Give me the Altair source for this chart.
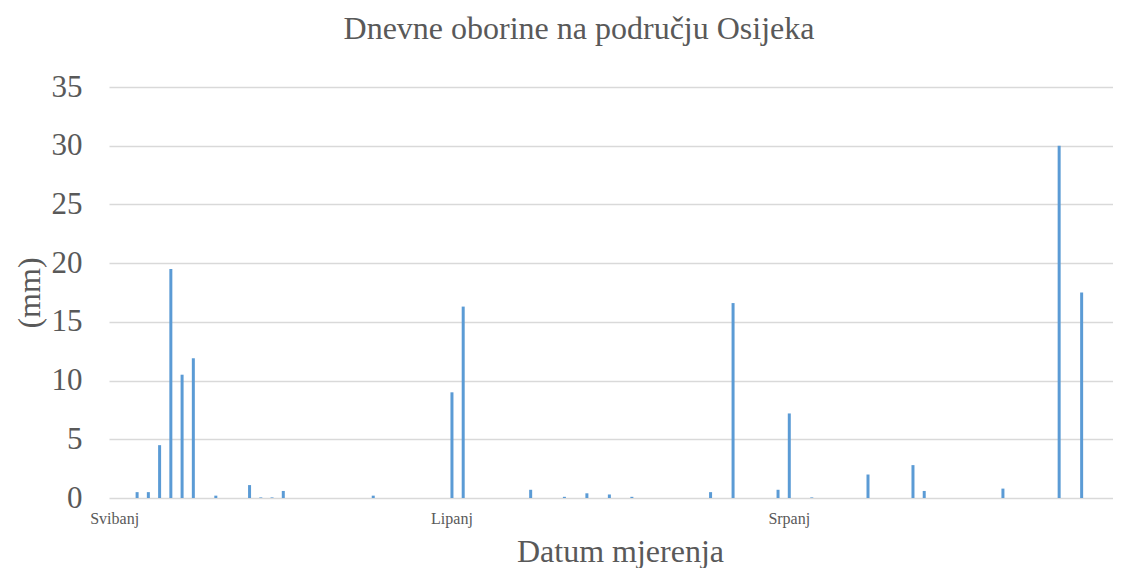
import altair as alt
import pandas as pd

# day index within the observed period (category axis)
days = list(range(1, 91))
# daily precipitation in mm
oborine = [
    0, 0, 0.5, 0.5, 4.5, 19.5, 10.5, 11.9, 0, 0.2,
    0, 0, 1.1, 0.05, 0.05, 0.6, 0, 0, 0, 0,
    0, 0, 0, 0.2, 0, 0, 0, 0, 0, 0,
    9.0, 16.3, 0, 0, 0, 0, 0, 0.7, 0, 0,
    0.1, 0, 0.4, 0, 0.3, 0, 0.1, 0, 0, 0,
    0, 0, 0, 0.5, 0, 16.6, 0, 0, 0, 0.7,
    7.2, 0, 0.05, 0, 0, 0, 0, 2.0, 0, 0,
    0, 2.8, 0.6, 0, 0, 0, 0, 0, 0, 0.8,
    0, 0, 0, 0, 30.0, 0, 17.5, 0, 0, 0,
]
month_labels = ["Svibanj", "Lipanj", "Srpanj"]
month_label_days = [1, 31, 61]
y_ticks = [0, 5, 10, 15, 20, 25, 30, 35]

df = pd.DataFrame({"dan": days, "oborine": oborine})

label_expr = " : ".join(
    f"datum.value == {d} ? '{m}'" for d, m in zip(month_label_days, month_labels)
) + " : ''"

TEXT = "#595959"
FONT = "Liberation Serif"

chart = (
    alt.Chart(df)
    .mark_bar(size=3, color="#5B9BD5")
    .encode(
        x=alt.X(
            "dan:O",
            scale=alt.Scale(paddingInner=0, paddingOuter=0),
            axis=alt.Axis(
                title="Datum mjerenja",
                labelExpr=label_expr,
                labelAngle=0,
                labelOverlap=False,
                labelFontSize=16,
                labelPadding=12,
                ticks=False,
                domain=False,
                titleFontSize=32,
                titlePadding=10,
                titleX=511,
            ),
        ),
        y=alt.Y(
            "oborine:Q",
            scale=alt.Scale(domain=[0, 35], nice=False),
            axis=alt.Axis(
                title="(mm)",
                values=y_ticks,
                labelFontSize=31,
                labelPadding=27,
                ticks=False,
                domain=False,
                titleFontSize=32,
                titlePadding=5,
                gridColor="#D9D9D9",
                gridWidth=1.3,
            ),
        ),
    )
    .properties(
        width=1012,
        height=411,
        title=alt.TitleParams(
            "Dnevne oborine na području Osijeka",
            fontSize=32,
            font=FONT,
            fontWeight="normal",
            color=TEXT,
            anchor="middle",
            offset=25,
            dx=-36,
        ),
        autosize=alt.AutoSizeParams(type="none"),
        padding={"left": 101, "top": 79, "right": -8, "bottom": 70},
    )
    .configure_view(stroke=None)
    .configure_axis(
        labelFont=FONT,
        titleFont=FONT,
        labelColor=TEXT,
        titleColor=TEXT,
        titleFontWeight="normal",
    )
)

chart.save("out.html", embed_options={"renderer": "svg", "actions": False})
